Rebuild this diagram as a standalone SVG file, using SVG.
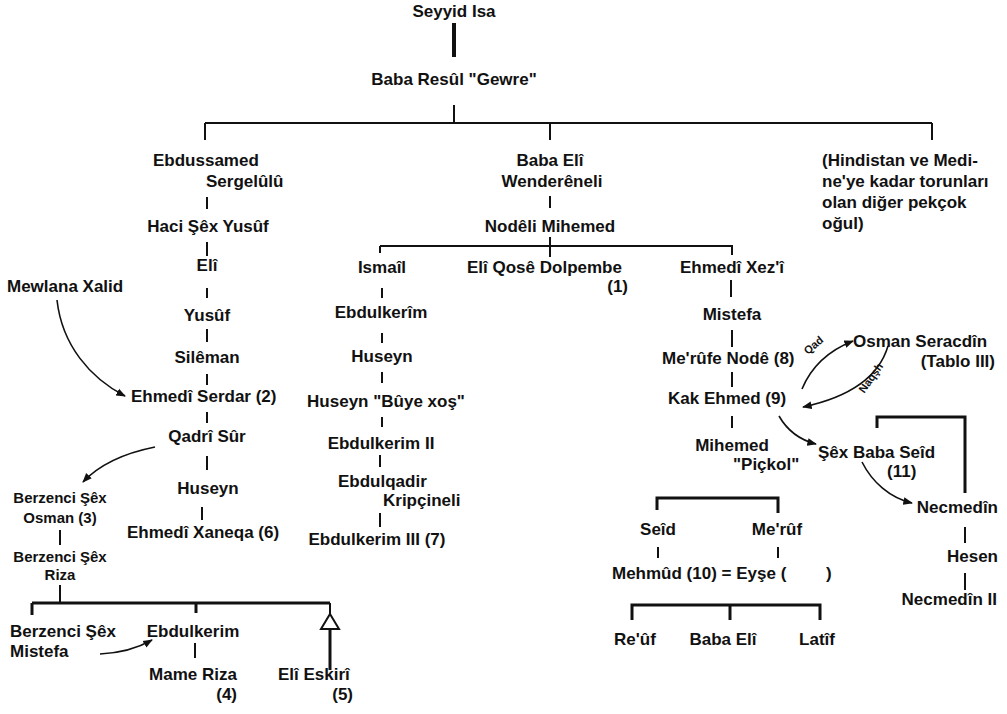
<svg xmlns="http://www.w3.org/2000/svg" width="1007" height="714" viewBox="0 0 1007 714">
<defs>
<style>
text{font-family:"Liberation Sans",Arial,sans-serif;font-weight:bold;font-size:17px;fill:#111}
.m{text-anchor:middle}.e{text-anchor:end}.s{font-size:15px}.xs{font-size:11px}
.l{stroke:#111;stroke-width:2;fill:none}
.b{stroke:#111;stroke-width:3;fill:none}
.a{stroke:#111;stroke-width:1.6;fill:none;marker-end:url(#ah)}
</style>
<marker id="ah" viewBox="0 0 10 10" refX="9" refY="5" markerWidth="6" markerHeight="6" orient="auto" markerUnits="strokeWidth">
<path d="M0,1 L10,5 L0,9 z" fill="#111"/>
</marker>
</defs>
<rect width="1007" height="714" fill="#fff"/>
<g id="connectors">
<line class="b" x1="454" y1="23" x2="454" y2="57" style="stroke-width:4"/>
<line class="l" x1="454" y1="105" x2="454" y2="123"/>
<line class="l" x1="205" y1="123" x2="932" y2="123"/>
<line class="l" x1="205" y1="123" x2="205" y2="140"/>
<line class="l" x1="550" y1="123" x2="550" y2="140"/>
<line class="l" x1="932" y1="123" x2="932" y2="140"/>
<line class="l" x1="207" y1="197" x2="207" y2="209"/>
<line class="l" x1="207" y1="242" x2="207" y2="256"/>
<line class="l" x1="207" y1="288" x2="207" y2="298"/>
<line class="l" x1="207" y1="329" x2="207" y2="342"/>
<line class="l" x1="207" y1="374" x2="207" y2="385"/>
<line class="l" x1="207" y1="412" x2="207" y2="423"/>
<line class="l" x1="207" y1="456" x2="207" y2="470"/>
<line class="l" x1="202" y1="507" x2="202" y2="520"/>
<line class="l" x1="60" y1="530" x2="60" y2="545"/>
<line class="l" x1="60" y1="585" x2="60" y2="603"/>
<line class="b" x1="32" y1="603" x2="330" y2="603"/>
<line class="b" x1="32" y1="603" x2="32" y2="615"/>
<line class="b" x1="196" y1="603" x2="196" y2="613"/>
<line class="l" x1="330" y1="603" x2="330" y2="614"/>
<polygon points="330,614 339,629 321,629" fill="#fff" stroke="#111" stroke-width="2"/>
<line class="b" x1="330" y1="629" x2="330" y2="670"/>
<line class="l" x1="195" y1="643" x2="195" y2="658"/>
<line class="l" x1="550" y1="196" x2="550" y2="208"/>
<line class="l" x1="380" y1="246" x2="733" y2="246"/>
<line class="l" x1="550" y1="237" x2="550" y2="257"/>
<line class="l" x1="380" y1="246" x2="380" y2="253"/>
<line class="l" x1="732" y1="246" x2="732" y2="255"/>
<line class="l" x1="382" y1="288" x2="382" y2="298"/>
<line class="l" x1="382" y1="333" x2="382" y2="343"/>
<line class="l" x1="382" y1="372" x2="382" y2="383"/>
<line class="l" x1="382" y1="417" x2="382" y2="427"/>
<line class="l" x1="380" y1="455" x2="380" y2="467"/>
<line class="l" x1="380" y1="513" x2="380" y2="527"/>
<line class="l" x1="731" y1="280" x2="731" y2="297"/>
<line class="l" x1="732" y1="330" x2="732" y2="347"/>
<line class="l" x1="732" y1="372" x2="732" y2="387"/>
<line class="l" x1="732" y1="416" x2="732" y2="428"/>
<path class="b" d="M657,510 V498 H778 V513"/>
<line class="l" x1="658" y1="547" x2="658" y2="558"/>
<line class="l" x1="778" y1="547" x2="778" y2="558"/>
<path class="b" d="M632,620 V605 H820 V620"/>
<line class="b" x1="730" y1="605" x2="730" y2="620"/>
<path class="b" d="M877,428 V417 H965 V493"/>
<line class="l" x1="965" y1="527" x2="965" y2="543"/>
<line class="l" x1="965" y1="573" x2="965" y2="590"/>
<path class="a" d="M57,300 C62,345 90,378 125,396"/>
<path class="a" d="M155,447 C125,453 100,464 83,482"/>
<path class="a" d="M100,654 C120,653 138,648 152,640"/>
<path class="a" d="M802,389 C812,365 830,350 853,341"/>
<path class="a" d="M888,346 C878,380 845,398 803,407"/>
<path class="a" d="M779,416 C787,430 800,440 816,444"/>
<path class="a" d="M862,462 C872,482 890,498 912,503"/>
<text class="xs" transform="translate(816,348) rotate(-40)" text-anchor="middle">Qad</text>
<text class="xs" transform="translate(874,380) rotate(-55)" text-anchor="middle">Naqşh</text>
</g>
<g id="n-seyyid"><text class="m" x="454" y="17">Seyyid Isa</text></g>
<g id="n-babaresul"><text class="m" x="454" y="85">Baba Resûl "Gewre"</text></g>
<g id="n-ebdussamed"><text x="153" y="166">Ebdussamed</text><text x="206" y="187">Sergelûlû</text></g>
<g id="n-haci"><text class="m" x="208" y="232">Haci Şêx Yusûf</text></g>
<g id="n-eli1"><text class="m" x="207" y="271">Elî</text></g>
<g id="n-mewlana"><text x="7" y="292">Mewlana Xalid</text></g>
<g id="n-yusuf"><text class="m" x="207" y="321">Yusûf</text></g>
<g id="n-sileman"><text class="m" x="207" y="363">Silêman</text></g>
<g id="n-serdar"><text x="131" y="402">Ehmedî Serdar (2)</text></g>
<g id="n-qadri"><text class="m" x="207" y="442">Qadrî Sûr</text></g>
<g id="n-huseyn1"><text class="m" x="208" y="494">Huseyn</text></g>
<g id="n-xaneqa"><text x="127" y="538">Ehmedî Xaneqa (6)</text></g>
<g id="n-osman3"><text class="m s" x="60" y="503">Berzenci Şêx</text><text class="m s" x="60" y="523">Osman (3)</text></g>
<g id="n-riza"><text class="m s" x="60" y="562">Berzenci Şêx</text><text class="m s" x="60" y="580">Riza</text></g>
<g id="n-mistefa1"><text x="10" y="637">Berzenci Şêx</text><text x="10" y="657">Mistefa</text></g>
<g id="n-ebdulkerim1"><text class="m" x="193" y="637">Ebdulkerim</text></g>
<g id="n-mame"><text class="m" x="193" y="680">Mame Riza</text><text class="e" x="237" y="700">(4)</text></g>
<g id="n-eskiri"><text x="278" y="680">Elî Eskirî</text><text class="e" x="353" y="700">(5)</text></g>
<g id="n-babaeli"><text class="m" x="550" y="166">Baba Elî</text><text class="m" x="552" y="187">Wenderêneli</text></g>
<g id="n-nodeli"><text class="m" x="550" y="232">Nodêli Mihemed</text></g>
<g id="n-ismail"><text class="m" x="382" y="273">Ismaîl</text></g>
<g id="n-ebdulkerim2"><text class="m" x="381" y="318">Ebdulkerîm</text></g>
<g id="n-huseyn2"><text class="m" x="382" y="362">Huseyn</text></g>
<g id="n-buye"><text class="m" x="386" y="407">Huseyn "Bûye xoş"</text></g>
<g id="n-ebdulkerimII"><text class="m" x="381" y="449">Ebdulkerim II</text></g>
<g id="n-ebdulqadir"><text x="338" y="487">Ebdulqadir</text><text x="383" y="506">Kripçineli</text></g>
<g id="n-ebdulkerimIII"><text class="m" x="377" y="545">Ebdulkerim III (7)</text></g>
<g id="n-qose"><text x="467" y="273">Elî Qosê Dolpembe</text><text class="e" x="628" y="292">(1)</text></g>
<g id="n-xezi"><text class="m" x="732" y="273">Ehmedî Xez'î</text></g>
<g id="n-mistefa2"><text class="m" x="732" y="320">Mistefa</text></g>
<g id="n-marufe"><text x="662" y="364">Me'rûfe Nodê (8)</text></g>
<g id="n-kak"><text x="668" y="404">Kak Ehmed (9)</text></g>
<g id="n-pickol"><text class="m" x="732" y="451">Mihemed</text><text x="733" y="470">"Piçkol"</text></g>
<g id="n-seid"><text class="m" x="658" y="535">Seîd</text></g>
<g id="n-maruf"><text class="m" x="777" y="535">Me'rûf</text></g>
<g id="n-mehmud"><text x="612" y="579">Mehmûd (10) = Eyşe (</text><text x="826" y="579">)</text></g>
<g id="n-rauf"><text class="m" x="635" y="645">Re'ûf</text></g>
<g id="n-babaeli2"><text class="m" x="723" y="645">Baba Elî</text></g>
<g id="n-latif"><text class="m" x="817" y="645">Latîf</text></g>
<g id="n-hindistan"><text x="822" y="166">(Hindistan ve Medi-</text><text x="822" y="187">ne'ye kadar torunları</text><text x="822" y="208">olan diğer pekçok</text><text x="822" y="229">oğul)</text></g>
<g id="n-osman"><text x="853" y="347">Osman Seracdîn</text><text class="e" x="995" y="367">(Tablo III)</text></g>
<g id="n-sexbaba"><text x="818" y="458">Şêx Baba Seîd</text><text x="887" y="477">(11)</text></g>
<g id="n-necmedin"><text class="e" x="998" y="513">Necmedîn</text></g>
<g id="n-hesen"><text class="e" x="998" y="562">Hesen</text></g>
<g id="n-necmedin2"><text class="e" x="997" y="605">Necmedîn II</text></g>
</svg>
